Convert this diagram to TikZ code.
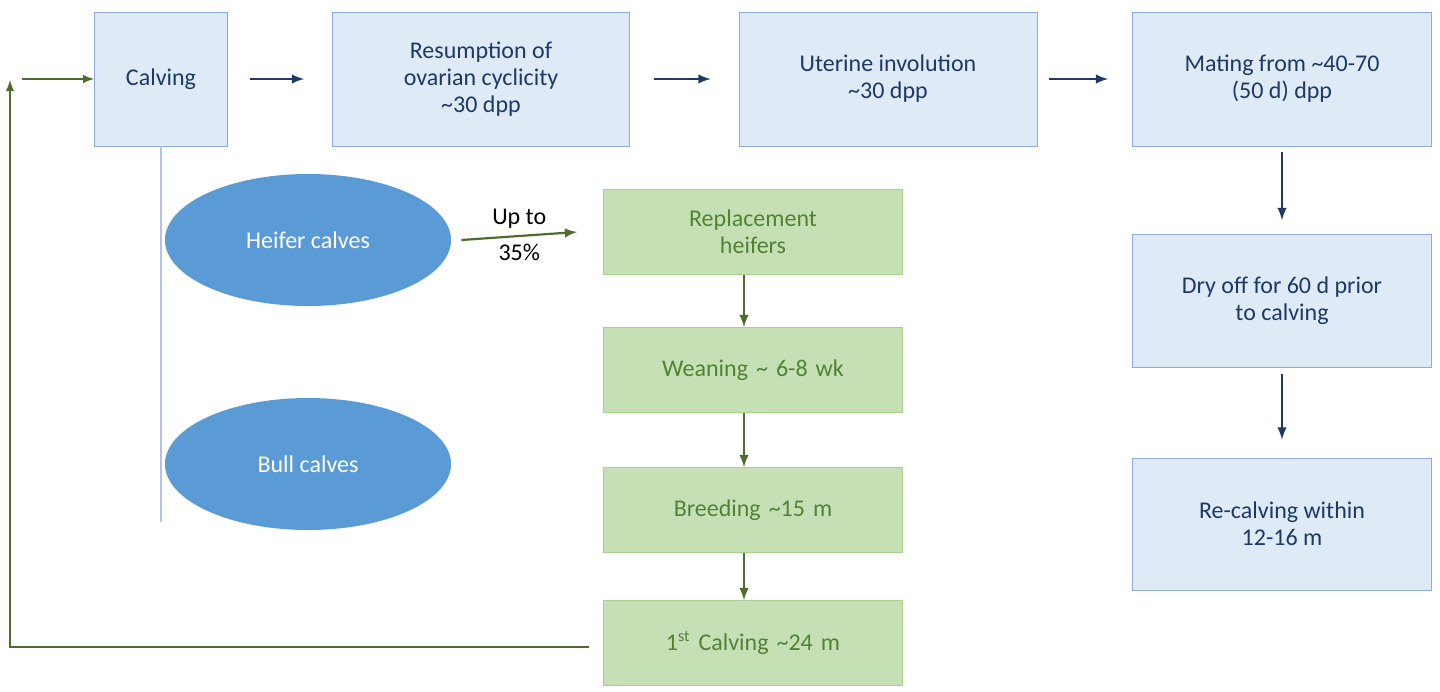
\documentclass[tikz,border=0pt]{standalone}
\usepackage{fontspec}
\setmainfont{Carlito}
\usetikzlibrary{positioning}
\definecolor{bfill}{HTML}{DEEBF7}
\definecolor{bline}{HTML}{8FAADC}
\definecolor{btext}{HTML}{1F3864}
\definecolor{gfill}{HTML}{C5E0B4}
\definecolor{gline}{HTML}{A9D18E}
\definecolor{gtext}{HTML}{548235}
\definecolor{gdark}{HTML}{4E6B30}
\definecolor{efill}{HTML}{5B9BD5}
\tikzset{
  bbox/.style={draw=bline, fill=bfill, text=btext, align=center, font=\fontsize{12}{13.5}\selectfont, inner sep=2pt},
  gbox/.style={draw=gline, fill=gfill, text=gtext, align=center, font=\fontsize{12}{13.5}\selectfont, minimum width=149.5pt, minimum height=42.5pt, text width=140pt},
  calf/.style={ellipse, fill=efill, text=white, font=\fontsize{12}{13.5}\selectfont, minimum width=143pt, minimum height=66pt},
  barrow/.style={->, >=latex, btext, line width=1.1pt},
  garrow/.style={->, >=latex, gdark, line width=1.1pt}
}
\usetikzlibrary{shapes.geometric}
\begin{document}
\begin{tikzpicture}[x=0.5pt, y=-0.5pt]
		\useasboundingbox (0,0) rectangle (1440,691);
		% Top row
		\node[bbox, minimum width=66.5pt, minimum height=67pt] (calv) at (161,79) {Calving};
		\node[bbox, minimum width=148.5pt, minimum height=67pt] (resum) at (481,79) {Resumption of\\ovarian cyclicity\\\textasciitilde30 dpp};
		\node[bbox, minimum width=149pt, minimum height=67pt] (uter) at (888,79) {Uterine involution\\\textasciitilde30 dpp};
		\node[bbox, minimum width=149.5pt, minimum height=67pt] (mate) at (1282,79) {Mating from \textasciitilde40-70\\(50 d) dpp};

		% Right column
		\node[bbox, minimum width=149.5pt, minimum height=66.5pt] (dry) at (1282,301) {Dry off for 60 d prior\\to calving};
		\node[bbox, minimum width=149.5pt, minimum height=66pt] (recalv) at (1282,524) {Re-calving within\\12-16 m};

		% Calves
		\node[calf] (heifer) at (308,240) {Heifer calves};
		\node[calf] (bull) at (308,464) {Bull calves};
		\draw[color=bline!70, line width=1pt] (calv.south) -- (161,522);

		% Heifer pathway
		\node[gbox] (repl) at (753,232) {Replacement\\heifers};
		\node[gbox] (wean) at (753,370) {Weaning \textasciitilde\ 6-8 wk};
		\node[gbox] (breed) at (753,510) {Breeding \textasciitilde15 m};
		\node[gbox] (first) at (753,643) {1\textsuperscript{st} Calving \textasciitilde24 m};

		% Blue arrows
		\draw[barrow] ([xshift=11pt]calv.east) -- ([xshift=-14pt]resum.west);
		\draw[barrow] ([xshift=12pt]resum.east) -- ([xshift=-14pt]uter.west);
		\draw[barrow] ([xshift=6pt]uter.east) -- ([xshift=-12pt]mate.west);
		\draw[barrow] ([yshift=-3pt]mate.south) -- ([yshift=7pt]dry.north);
		\draw[barrow] ([yshift=-3pt]dry.south) -- ([yshift=9pt]recalv.north);

		% Green arrows
		\draw[garrow] ([xshift=5pt]heifer.east) -- node[above, text=black, font=\fontsize{12}{13.5}\selectfont] {Up to} node[below, text=black, font=\fontsize{12}{13.5}\selectfont] {35\%} ([xshift=-13pt]repl.west);
		\draw[garrow] ([xshift=-4.5pt]repl.south) -- ([xshift=-4.5pt]wean.north);
		\draw[garrow] ([xshift=-4.5pt]wean.south) -- ([xshift=-4.5pt]breed.north);
		\draw[garrow] ([xshift=-4.5pt]breed.south) -- ([xshift=-4.5pt]first.north);

		% Loop back to calving
		\coordinate (lowl) at (10,647);
		\coordinate (topl) at (10,80);
		\draw[garrow, line width=0.9pt] ([xshift=-7pt,yshift=-2pt]first.west) -- (lowl) -- (topl);
		\draw[garrow, line width=0.9pt] (22,79) -- (calv.west);
	\end{tikzpicture}
\end{document}
